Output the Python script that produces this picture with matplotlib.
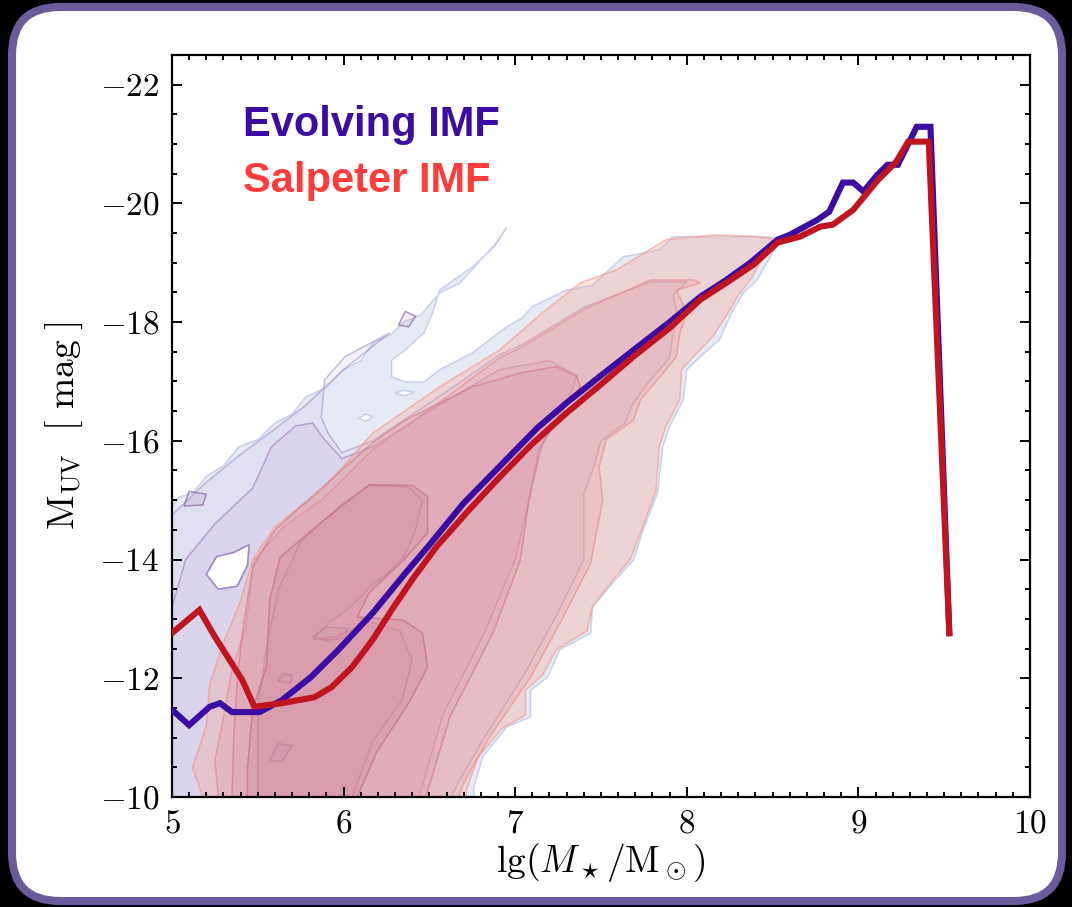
import numpy as np
import matplotlib
matplotlib.use("Agg")
import matplotlib.pyplot as plt
from matplotlib.path import Path
from matplotlib.patches import PathPatch, FancyBboxPatch
from matplotlib.colors import to_rgba
from matplotlib.ticker import MultipleLocator

plt.rcParams['font.family'] = 'serif'
plt.rcParams['font.serif'] = ['cmr10', 'DejaVu Serif']
plt.rcParams['mathtext.fontset'] = 'cm'
plt.rcParams['axes.formatter.use_mathtext'] = True

# median M_UV relations
evolving_x = [5.00, 5.10, 5.22, 5.28, 5.35, 5.51, 5.64, 5.81, 5.97, 6.17, 6.36, 6.49,
              6.70, 6.92, 7.13, 7.30, 7.50, 7.69, 7.90, 8.08, 8.23, 8.37, 8.53, 8.60,
              8.76, 8.83, 8.91, 8.97, 9.03, 9.11, 9.17, 9.23, 9.34, 9.42, 9.53]
evolving_y = [-11.47, -11.21, -11.52, -11.58, -11.43, -11.43, -11.63, -12.02, -12.48,
              -13.10, -13.77, -14.21, -14.95, -15.60, -16.22, -16.64, -17.10, -17.53,
              -18.00, -18.43, -18.71, -19.00, -19.39, -19.47, -19.72, -19.86, -20.35,
              -20.35, -20.20, -20.48, -20.65, -20.65, -21.29, -21.29, -12.76]

salpeter_x = [5.00, 5.16, 5.25, 5.41, 5.48, 5.64, 5.83, 5.93, 6.05, 6.17, 6.28, 6.40,
              6.54, 6.72, 6.91, 7.10, 7.30, 7.50, 7.69, 7.90, 8.08, 8.23, 8.39, 8.53,
              8.66, 8.78, 8.85, 8.97, 9.11, 9.22, 9.29, 9.41, 9.53]
salpeter_y = [-12.76, -13.15, -12.70, -11.97, -11.52, -11.58, -11.68, -11.85, -12.19,
              -12.65, -13.15, -13.66, -14.21, -14.80, -15.39, -15.95, -16.47, -16.95,
              -17.42, -17.90, -18.38, -18.66, -18.97, -19.34, -19.44, -19.61, -19.64,
              -19.89, -20.38, -20.70, -21.04, -21.04, -12.76]

# density contours, evolving IMF (outer -> inner)
evo_c1 = [(5.00, -10.00), (5.00, -14.90), (5.04, -15.05), (5.12, -15.12), (5.20, -15.40),
          (5.30, -15.58), (5.39, -15.90), (5.50, -16.02), (5.60, -16.30), (5.70, -16.45),
          (5.78, -16.74), (5.90, -16.90), (6.00, -17.20), (6.10, -17.35), (6.17, -17.65),
          (6.27, -17.78), (6.35, -18.00), (6.45, -18.12), (6.56, -18.49), (6.68, -18.66),
          (6.80, -19.05), (6.88, -19.30), (6.95, -19.59), (6.88, -19.27), (6.75, -18.93),
          (6.56, -18.54), (6.52, -18.16), (6.47, -17.82), (6.36, -17.53), (6.28, -17.36),
          (6.28, -17.08), (6.36, -16.99), (6.47, -16.99), (6.56, -17.20), (6.75, -17.48),
          (6.95, -17.92), (7.04, -18.07), (7.10, -18.26), (7.30, -18.54), (7.45, -18.62),
          (7.63, -19.10), (7.84, -19.22), (7.92, -19.44), (8.27, -19.44), (8.43, -19.44),
          (8.55, -19.42), (8.41, -18.71), (8.33, -18.49), (8.27, -18.21), (8.19, -17.70),
          (8.08, -17.42), (8.00, -17.20), (7.98, -16.69), (7.90, -16.24), (7.86, -15.90),
          (7.83, -15.12), (7.74, -14.45), (7.69, -13.99), (7.57, -13.61), (7.45, -13.20),
          (7.44, -12.76), (7.26, -12.48), (7.19, -12.02), (7.09, -11.80), (7.09, -11.35),
          (6.95, -11.18), (6.81, -10.67), (6.76, -10.17), (6.76, -10.00)]
evo_c1_holes = [
    [(5.20, -13.75), (5.26, -14.05), (5.36, -14.12), (5.45, -14.25), (5.44, -13.90),
     (5.38, -13.55), (5.27, -13.50)],
    [(6.09, -16.38), (6.13, -16.45), (6.17, -16.40), (6.13, -16.33)],
    [(6.30, -16.80), (6.35, -16.85), (6.41, -16.82), (6.36, -16.76)],
]
evo_c2 = [(5.00, -10.00), (5.00, -14.75), (5.20, -15.30), (5.39, -15.75), (5.60, -16.20),
          (5.78, -16.60), (6.00, -17.20), (6.27, -17.82), (6.01, -17.42), (5.89, -17.03),
          (5.87, -16.40), (5.91, -16.13), (5.99, -15.80), (6.17, -16.00), (6.56, -16.75),
          (6.91, -17.45), (7.04, -17.62), (7.40, -18.25), (7.79, -18.68), (8.00, -18.68),
          (7.92, -18.45), (7.95, -18.10), (7.92, -17.80), (7.90, -17.40), (7.78, -17.00),
          (7.68, -16.60), (7.64, -16.30), (7.50, -16.00), (7.45, -15.50), (7.40, -15.10),
          (7.40, -14.00), (7.24, -13.05), (7.05, -12.05), (6.82, -11.00), (6.66, -10.20),
          (6.63, -10.00)]
evo_c2_holes = [evo_c1_holes[0]]
evo_c3 = [(5.00, -10.00), (5.00, -13.20), (5.08, -14.00), (5.25, -14.60), (5.47, -15.20),
          (5.58, -15.90), (5.72, -16.25), (5.82, -16.30), (5.88, -16.05), (5.99, -15.70),
          (6.17, -15.90), (6.50, -16.50), (6.91, -17.20), (7.20, -17.35), (7.36, -17.10),
          (7.30, -16.60), (7.16, -15.95), (7.08, -15.00), (7.00, -14.00), (6.82, -12.76),
          (6.58, -11.40), (6.44, -10.00)]
evo_c3_holes = [evo_c1_holes[0]]
evo_c4 = [(5.50, -10.00), (5.50, -11.50), (5.55, -12.50), (5.62, -13.50), (5.75, -14.30),
          (6.00, -14.95), (6.15, -15.25), (6.38, -15.22), (6.46, -15.00), (6.42, -14.50),
          (6.35, -14.04), (6.25, -13.75), (6.18, -13.60), (6.04, -13.20), (5.92, -12.95),
          (5.82, -12.65), (5.95, -12.70), (6.15, -12.95), (6.33, -12.80), (6.40, -12.30),
          (6.34, -11.63), (6.17, -10.93), (6.05, -10.00)]
evo_c5 = [
    [(5.82, -12.70), (5.90, -12.86), (6.02, -12.84), (6.01, -12.68), (5.90, -12.64)],
    [(5.62, -11.95), (5.65, -12.08), (5.70, -12.05), (5.69, -11.92)],
    [(5.57, -10.62), (5.62, -10.90), (5.70, -10.86), (5.64, -10.60)],
    [(6.32, -17.95), (6.36, -18.18), (6.42, -18.10), (6.38, -17.92)],
    [(5.07, -14.90), (5.10, -15.15), (5.20, -15.10), (5.18, -14.92)],
]

# density contours, Salpeter IMF (outer -> inner)
sal_c1 = [(5.18, -10.00), (5.12, -10.50), (5.20, -11.20), (5.22, -11.90), (5.30, -12.60),
          (5.40, -13.30), (5.47, -14.00), (5.60, -14.55), (5.75, -14.90), (5.87, -15.15),
          (6.17, -16.13), (6.56, -16.91), (6.91, -17.53), (7.16, -18.16), (7.38, -18.66),
          (7.59, -18.88), (7.88, -19.39), (8.18, -19.47), (8.39, -19.44), (8.50, -19.40),
          (8.38, -18.75), (8.30, -18.45), (8.24, -18.15), (8.15, -17.75), (8.05, -17.45),
          (7.97, -17.20), (7.96, -16.70), (7.88, -16.25), (7.84, -15.90), (7.82, -15.15),
          (7.73, -14.45), (7.67, -14.00), (7.56, -13.62), (7.45, -13.20), (7.42, -12.80),
          (7.24, -12.48), (7.16, -12.05), (7.06, -11.80), (7.06, -11.38), (6.92, -11.15),
          (6.78, -10.65), (6.72, -10.15), (6.71, -10.00)]
sal_c2 = [(5.27, -10.00), (5.25, -10.62), (5.29, -11.18), (5.35, -12.14), (5.43, -12.86),
          (5.48, -13.99), (5.65, -14.55), (5.87, -15.00), (6.17, -15.85), (6.56, -16.65),
          (6.91, -17.40), (7.04, -17.58), (7.40, -18.21), (7.79, -18.71), (8.04, -18.71),
          (8.08, -18.66), (7.94, -18.54), (8.00, -18.16), (7.96, -17.82), (7.94, -17.42),
          (7.83, -17.03), (7.73, -16.69), (7.69, -16.35), (7.53, -16.02), (7.49, -15.56),
          (7.51, -15.00), (7.44, -13.94), (7.28, -13.03), (7.09, -12.02), (6.85, -11.01),
          (6.70, -10.24), (6.67, -10.00)]
sal_c3 = [(5.35, -10.00), (5.36, -11.08), (5.38, -11.92), (5.41, -12.76), (5.47, -13.88),
          (5.60, -14.50), (5.97, -15.46), (6.17, -15.97), (6.36, -16.35), (6.75, -16.91),
          (7.04, -17.15), (7.24, -17.25), (7.36, -17.08), (7.38, -16.91), (7.26, -16.47),
          (7.14, -15.85), (7.08, -15.00), (7.03, -13.99), (6.87, -12.76), (6.62, -11.35),
          (6.48, -10.00)]
sal_c4 = [(5.44, -10.00), (5.44, -10.50), (5.47, -11.47), (5.55, -12.19), (5.57, -13.32),
          (5.63, -14.04), (5.90, -14.70), (6.15, -15.26), (6.40, -15.25), (6.49, -15.06),
          (6.49, -14.45), (6.35, -13.99), (6.15, -13.44), (6.08, -13.03), (6.35, -12.98),
          (6.46, -12.76), (6.49, -12.19), (6.39, -11.63), (6.19, -10.74), (6.08, -10.00)]

evo_levels = [(evo_c1, evo_c1_holes), (evo_c2, evo_c2_holes), (evo_c3, evo_c3_holes),
              (evo_c4, [])] + [(p, []) for p in evo_c5]
evo_fill = ['#bcc6e4', '#b9a3d6', '#b48cc8', '#a874b0'] + ['#9a6aa8'] * 5
evo_alpha = [0.36, 0.15, 0.12, 0.14] + [0.12] * 5
evo_edge = ['#a9b6dc', '#a08ac8', '#9a72b8', '#8a5a9e'] + ['#7a4a8e'] * 5

sal_levels = [(sal_c1, []), (sal_c2, []), (sal_c3, []), (sal_c4, [])]
sal_fill = ['#f6a598', '#e8979e', '#d98a9e', '#c97a94']
sal_alpha = [0.34, 0.26, 0.25, 0.22]
sal_edge = ['#f5907f', '#ea8282', '#d56d80', '#c26079']


def ring_area(ring):
    x, y = ring[:, 0], ring[:, 1]
    return 0.5 * np.sum(x * np.roll(y, -1) - np.roll(x, -1) * y)


def contour_patch(outer, holes, face, alpha, edge):
    verts, codes = [], []
    for i, ring in enumerate([outer] + list(holes)):
        ring = np.asarray(ring, float)
        a = ring_area(ring)
        if (i == 0 and a < 0) or (i > 0 and a > 0):
            ring = ring[::-1]
        verts += list(ring) + [ring[0]]
        codes += [Path.MOVETO] + [Path.LINETO] * (len(ring) - 1) + [Path.CLOSEPOLY]
    return PathPatch(Path(verts, codes), facecolor=to_rgba(face, alpha),
                     edgecolor=to_rgba(edge, 0.55), lw=1.1)


fig = plt.figure(figsize=(10.72, 9.07), dpi=100, facecolor='black')

# rounded card behind the plot
bg = fig.add_axes([0, 0, 1, 1], zorder=-1)
bg.set_xlim(0, 1072)
bg.set_ylim(0, 907)
bg.axis('off')
bg.add_patch(FancyBboxPatch((12, 6), 1050, 894, boxstyle='round,pad=0,rounding_size=48',
                            facecolor='white', edgecolor='#6b5b9c', lw=5.8))

ax = fig.add_axes([0.1604, 0.1213, 0.8004, 0.8181])

for (outer, holes), fc, al, ec in zip(evo_levels, evo_fill, evo_alpha, evo_edge):
    ax.add_patch(contour_patch(outer, holes, fc, al, ec))
for (outer, holes), fc, al, ec in zip(sal_levels, sal_fill, sal_alpha, sal_edge):
    ax.add_patch(contour_patch(outer, holes, fc, al, ec))

ax.plot(evolving_x, evolving_y, color='#3a0ca3', lw=4.4, solid_joinstyle='miter', zorder=5)
ax.plot(salpeter_x, salpeter_y, color='#c0141e', lw=4.4, solid_joinstyle='miter', zorder=6)

ax.text(0.083, 0.906, 'Evolving IMF', transform=ax.transAxes, color='#3a0ca3',
        fontsize=30, fontweight='bold', family='Liberation Sans', va='center')
ax.text(0.083, 0.830, 'Salpeter IMF', transform=ax.transAxes, color='#ff3b3b',
        fontsize=30, fontweight='bold', family='Liberation Sans', va='center')

ax.set_xlim(5, 10)
ax.set_ylim(-10, -22.5)
ax.xaxis.set_major_locator(MultipleLocator(1))
ax.xaxis.set_minor_locator(MultipleLocator(0.1))
ax.yaxis.set_major_locator(MultipleLocator(2))
ax.yaxis.set_minor_locator(MultipleLocator(0.5))
ax.tick_params(which='both', direction='in', top=True, right=True, width=1.4,
               labelsize=24)
ax.tick_params(which='major', length=7.5, pad=9)
ax.tick_params(which='minor', length=3.8)
for s in ax.spines.values():
    s.set_linewidth(1.6)

ax.set_xlabel(r'$\lg(M_\star/\mathrm{M_\odot})$', fontsize=27, labelpad=2)
ax.set_ylabel(r'$\mathrm{M_{UV}}\ \ [\ \mathrm{mag}\ ]$', fontsize=27, labelpad=10)

fig.savefig('out.png', dpi=100, facecolor='black')
